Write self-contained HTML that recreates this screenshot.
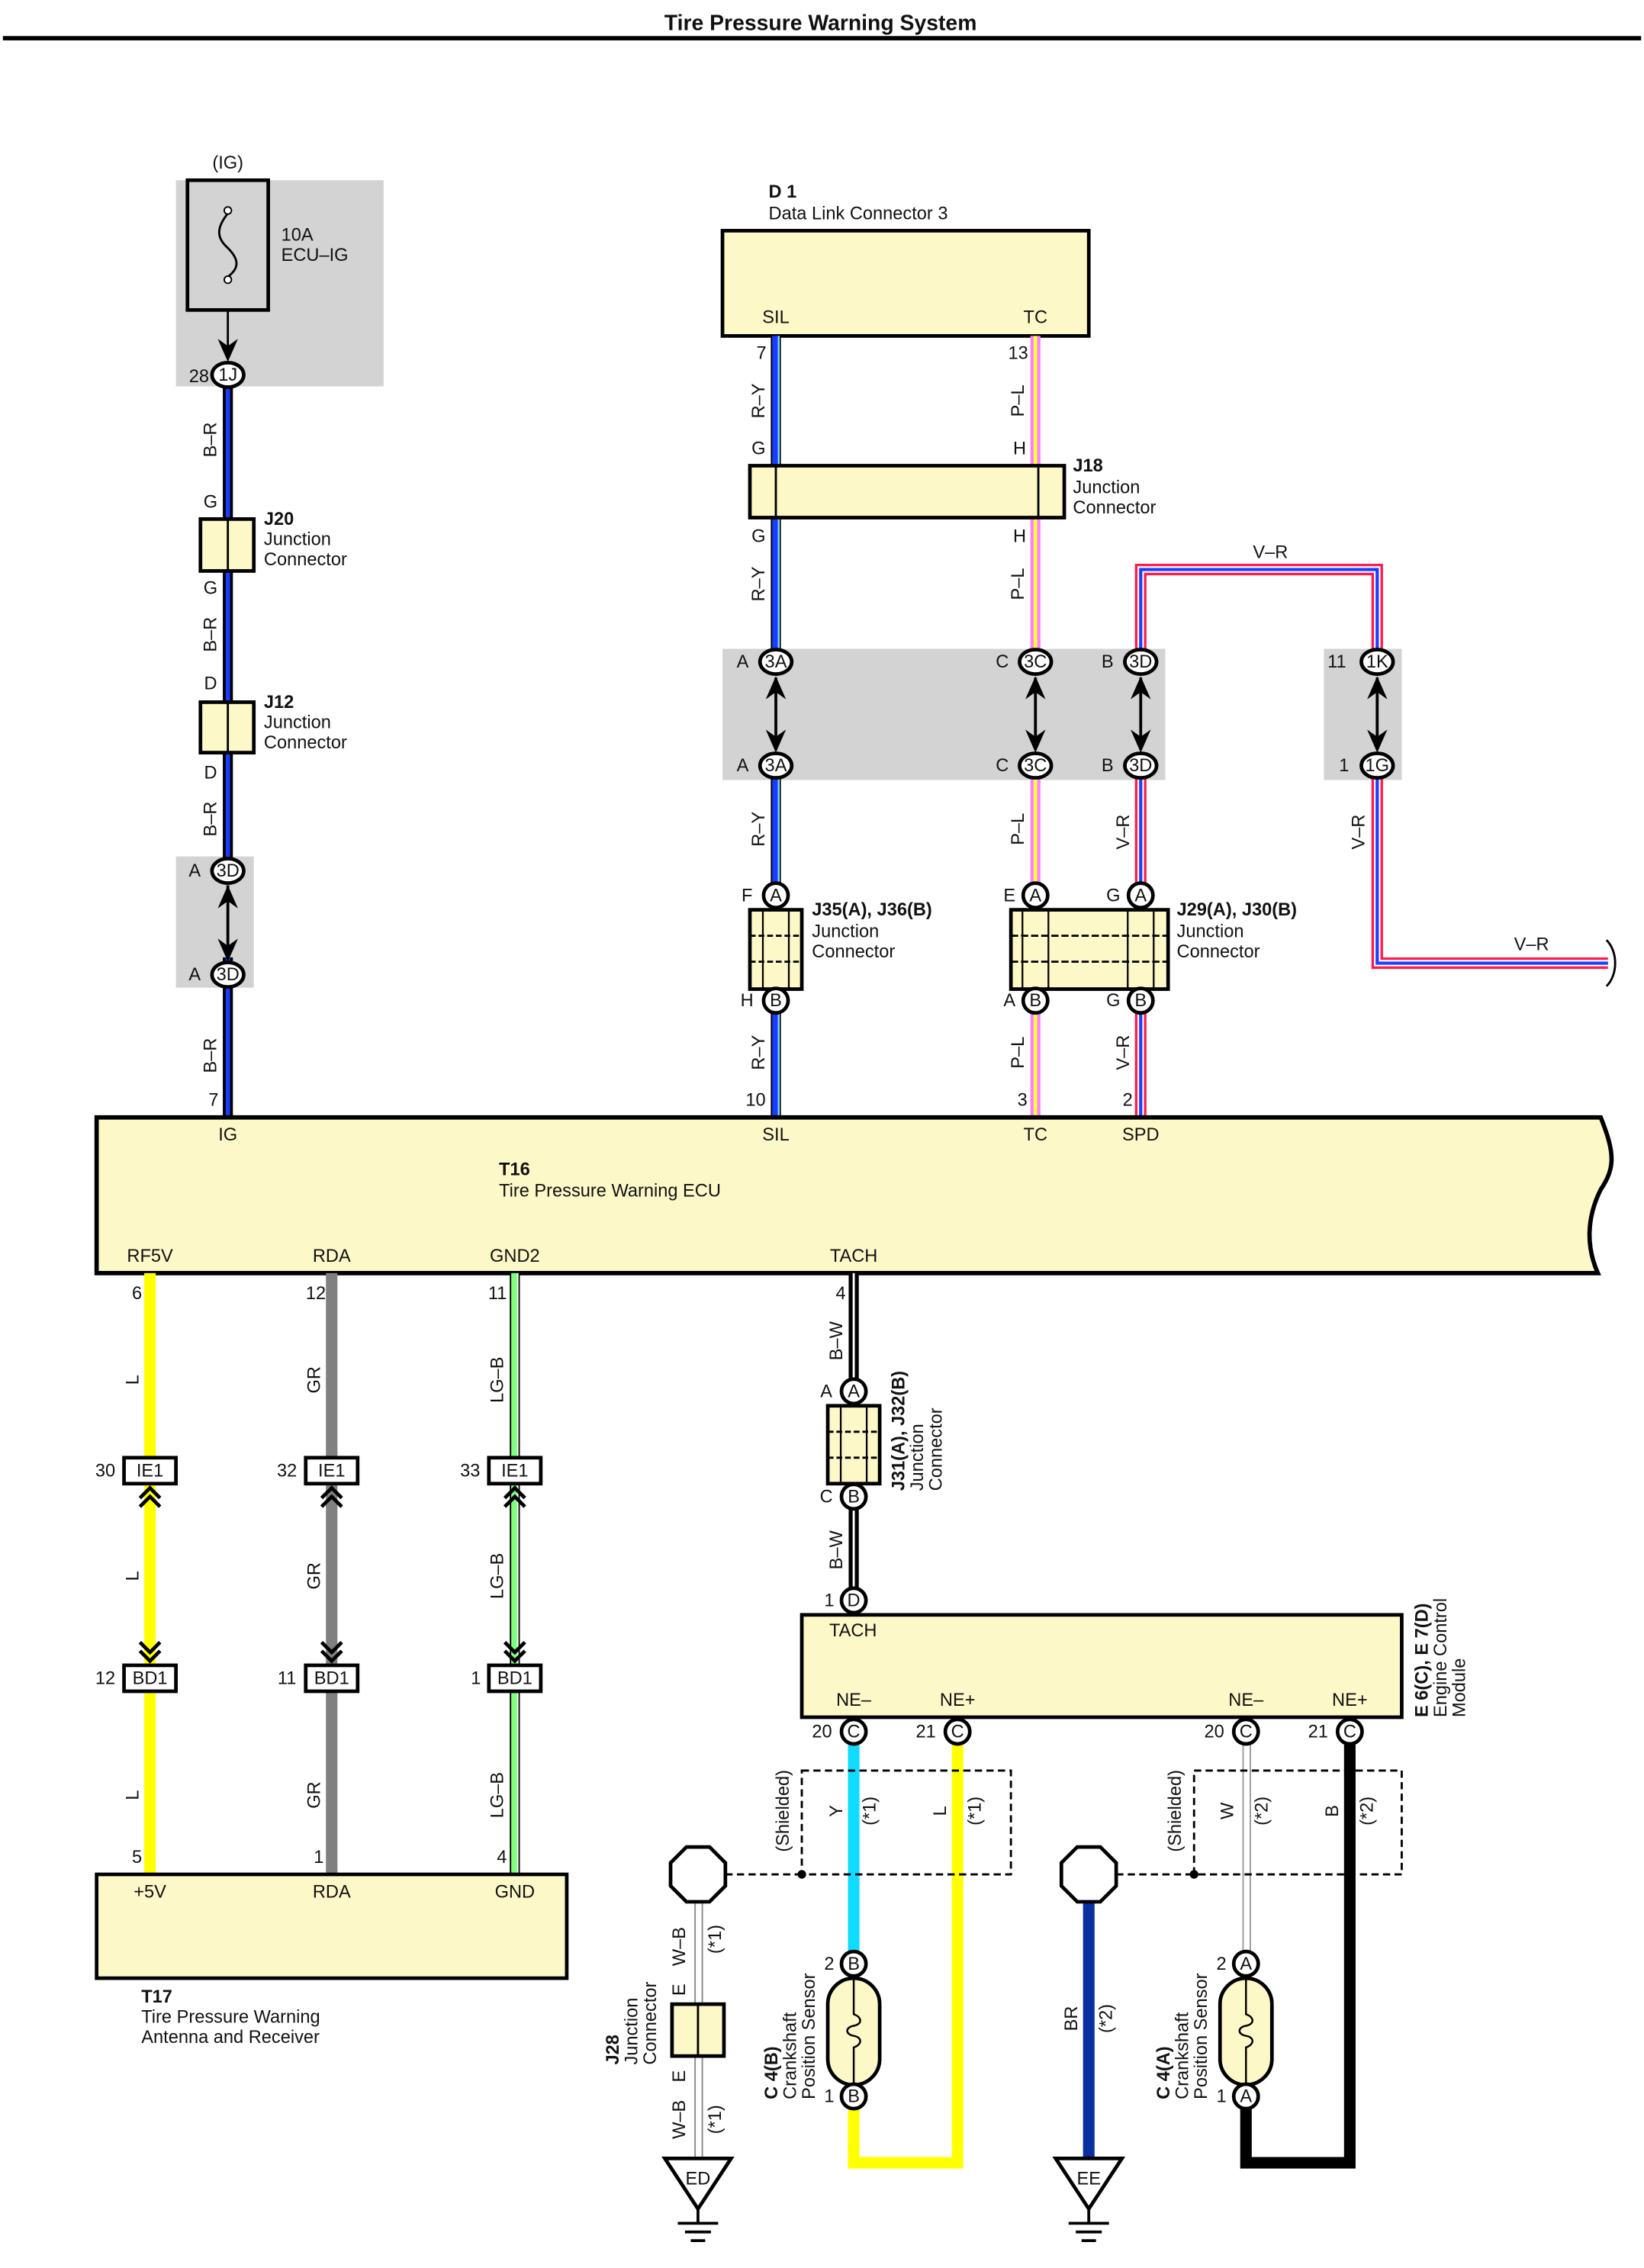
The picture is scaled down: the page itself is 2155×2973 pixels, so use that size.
<!DOCTYPE html>
<html><head><meta charset="utf-8"><style>
html,body{margin:0;padding:0;background:#fff}
svg{display:block}
text{font-family:"Liberation Sans",sans-serif;font-size:12.5px;fill:#111}
.b{font-weight:bold}
.c{text-anchor:middle}
</style></head><body>
<svg width="2155" height="2973" viewBox="0 0 1140 1573" preserveAspectRatio="none" xmlns="http://www.w3.org/2000/svg">
<defs>
<g id="upA"><polygon points="0,0 -7,16 0,11 7,16" fill="#000"/></g>
<g id="dnA"><polygon points="0,0 -7,-16 0,-11 7,-16" fill="#000"/></g>
<g id="chU"><polyline points="-7,8 0,1 7,8" fill="none" stroke="#000" stroke-width="2.5"/><polyline points="-7,14 0,7 7,14" fill="none" stroke="#000" stroke-width="2.5"/></g>
<g id="chD"><polyline points="-7,-8 0,-1 7,-8" fill="none" stroke="#000" stroke-width="2.5"/><polyline points="-7,-14 0,-7 7,-14" fill="none" stroke="#000" stroke-width="2.5"/></g>
</defs>
<text x="569" y="21" class="b c" style="font-size:15px">Tire Pressure Warning System</text>
<rect x="2" y="25" width="1136" height="3" fill="#000"/>

<rect x="122" y="125" width="144" height="143" fill="#d3d3d3"/>
<rect x="122" y="594" width="54" height="91" fill="#d3d3d3"/>
<rect x="501" y="450" width="307" height="91" fill="#d3d3d3"/>
<rect x="918" y="450" width="54" height="91" fill="#d3d3d3"/>

<text x="158" y="117" class="c">(IG)</text>
<rect x="130" y="125" width="56" height="90" fill="none" stroke="#000" stroke-width="2.5"/>
<path d="M158,148 C150,158 150,165 158,172 C166,180 166,186 158,192" fill="none" stroke="#000" stroke-width="1.5"/>
<circle cx="158" cy="146" r="2.5" fill="#fff" stroke="#000"/><circle cx="158" cy="194" r="2.5" fill="#fff" stroke="#000"/>
<text x="195" y="167">10A</text><text x="195" y="181">ECU–IG</text>
<line x1="158" y1="215" x2="158" y2="245" stroke="#000" stroke-width="1.5"/>
<use href="#dnA" x="158" y="251"/>

<line x1="158" y1="260" x2="158" y2="775" stroke="#000" stroke-width="7"/>
<line x1="158" y1="260" x2="158" y2="775" stroke="#1a3cff" stroke-width="3"/>
<rect x="152" y="612" width="12" height="52" fill="#d3d3d3"/>
<line x1="158" y1="614" x2="158" y2="662" stroke="#000" stroke-width="2"/>
<use href="#upA" x="158" y="614"/><use href="#dnA" x="158" y="667"/>

<rect x="139" y="360" width="37" height="36" fill="#fdf8c8" stroke="#000" stroke-width="2.5"/>
<line x1="158" y1="360" x2="158" y2="396" stroke="#000" stroke-width="1.5"/>
<rect x="139" y="487" width="37" height="35" fill="#fdf8c8" stroke="#000" stroke-width="2.5"/>
<line x1="158" y1="487" x2="158" y2="522" stroke="#000" stroke-width="1.5"/>
<text x="146" y="352" class="c">G</text><text x="146" y="412" class="c">G</text>
<text x="146" y="478" class="c">D</text><text x="146" y="540" class="c">D</text>
<text x="183" y="364" class="b">J20</text><text x="183" y="378">Junction</text><text x="183" y="392">Connector</text>
<text x="183" y="491" class="b">J12</text><text x="183" y="505">Junction</text><text x="183" y="519">Connector</text>
<text transform="translate(150,305) rotate(-90)" class="c">B–R</text>
<text transform="translate(150,440) rotate(-90)" class="c">B–R</text>
<text transform="translate(150,568) rotate(-90)" class="c">B–R</text>
<text transform="translate(150,732) rotate(-90)" class="c">B–R</text>
<text x="138" y="265" class="c">28</text>
<text x="148" y="767" class="c">7</text>
<text x="135" y="608" class="c">A</text><text x="135" y="680" class="c">A</text>

<text x="533" y="137" class="b">D 1</text><text x="533" y="152">Data Link Connector 3</text>
<rect x="501" y="160" width="254" height="73" fill="#fdf8c8" stroke="#000" stroke-width="2.5"/>
<text x="538" y="224" class="c">SIL</text><text x="718" y="224" class="c">TC</text>

<line x1="538" y1="233" x2="538" y2="775" stroke="#000" stroke-width="7"/>
<line x1="538" y1="233" x2="538" y2="775" stroke="#1a3cff" stroke-width="5"/>
<line x1="540" y1="233" x2="540" y2="775" stroke="#7fd4ff" stroke-width="1.3"/>
<line x1="718" y1="233" x2="718" y2="775" stroke="#ff7fff" stroke-width="7"/>
<line x1="718" y1="233" x2="718" y2="775" stroke="#ffff40" stroke-width="2.5"/>
<path d="M791,775 V395 H955 V668 H1115" fill="none" stroke="#ff1a4a" stroke-width="8"/>
<path d="M791,775 V395 H955 V668 H1115" fill="none" stroke="#fff" stroke-width="4.5"/>
<path d="M791,775 V395 H955 V668 H1115" fill="none" stroke="#1a3cff" stroke-width="2.2"/>
<path d="M1114,652 C1122,660 1122,676 1114,684" fill="none" stroke="#000" stroke-width="1.5"/>
<text x="881" y="387" class="c">V–R</text><text x="1062" y="659" class="c">V–R</text>

<rect x="520" y="323" width="218" height="36" fill="#fdf8c8" stroke="#000" stroke-width="2.5"/>
<line x1="538" y1="323" x2="538" y2="359" stroke="#000" stroke-width="1.5"/>
<line x1="720" y1="323" x2="720" y2="359" stroke="#000" stroke-width="1.5"/>
<text x="744" y="327" class="b">J18</text><text x="744" y="342">Junction</text><text x="744" y="356">Connector</text>
<text x="526" y="315" class="c">G</text><text x="526" y="376" class="c">G</text>
<text x="707" y="315" class="c">H</text><text x="707" y="376" class="c">H</text>
<text x="528" y="249" class="c">7</text><text x="706" y="249" class="c">13</text>

<rect x="532" y="468" width="12" height="54" fill="#d3d3d3"/>
<rect x="712" y="468" width="12" height="54" fill="#d3d3d3"/>
<rect x="785" y="468" width="12" height="54" fill="#d3d3d3"/>
<rect x="949" y="468" width="12" height="54" fill="#d3d3d3"/>
<line x1="538" y1="470" x2="538" y2="520" stroke="#000" stroke-width="2"/><use href="#upA" x="538" y="469"/><use href="#dnA" x="538" y="522"/>
<line x1="718" y1="470" x2="718" y2="520" stroke="#000" stroke-width="2"/><use href="#upA" x="718" y="469"/><use href="#dnA" x="718" y="522"/>
<line x1="791" y1="470" x2="791" y2="520" stroke="#000" stroke-width="2"/><use href="#upA" x="791" y="469"/><use href="#dnA" x="791" y="522"/>
<line x1="955" y1="470" x2="955" y2="520" stroke="#000" stroke-width="2"/><use href="#upA" x="955" y="469"/><use href="#dnA" x="955" y="522"/>
<text x="515" y="463" class="c">A</text><text x="515" y="535" class="c">A</text>
<text x="695" y="463" class="c">C</text><text x="695" y="535" class="c">C</text>
<text x="768" y="463" class="c">B</text><text x="768" y="535" class="c">B</text>
<text x="927" y="463" class="c">11</text><text x="932" y="535" class="c">1</text>

<rect x="520" y="631" width="36" height="55" fill="#fdf8c8" stroke="#000" stroke-width="2.5"/>
<line x1="529" y1="631" x2="529" y2="686" stroke="#000" stroke-width="1.2"/><line x1="547" y1="631" x2="547" y2="686" stroke="#000" stroke-width="1.2"/>
<line x1="520" y1="649" x2="556" y2="649" stroke="#000" stroke-width="1.5" stroke-dasharray="4,2"/>
<line x1="520" y1="667" x2="556" y2="667" stroke="#000" stroke-width="1.5" stroke-dasharray="4,2"/>
<text x="563" y="635" class="b">J35(A), J36(B)</text><text x="563" y="650">Junction</text><text x="563" y="664">Connector</text>
<text x="518" y="625" class="c">F</text><text x="518" y="698" class="c">H</text>
<rect x="701" y="631" width="109" height="55" fill="#fdf8c8" stroke="#000" stroke-width="2.5"/>
<line x1="709" y1="631" x2="709" y2="686" stroke="#000" stroke-width="1.2"/><line x1="727" y1="631" x2="727" y2="686" stroke="#000" stroke-width="1.2"/>
<line x1="782" y1="631" x2="782" y2="686" stroke="#000" stroke-width="1.2"/><line x1="800" y1="631" x2="800" y2="686" stroke="#000" stroke-width="1.2"/>
<line x1="701" y1="649" x2="810" y2="649" stroke="#000" stroke-width="1.5" stroke-dasharray="5,2"/>
<line x1="701" y1="667" x2="810" y2="667" stroke="#000" stroke-width="1.5" stroke-dasharray="5,2"/>
<text x="816" y="635" class="b">J29(A), J30(B)</text><text x="816" y="650">Junction</text><text x="816" y="664">Connector</text>
<text x="700" y="625" class="c">E</text><text x="772" y="625" class="c">G</text>
<text x="700" y="698" class="c">A</text><text x="772" y="698" class="c">G</text>

<text transform="translate(530,278) rotate(-90)" class="c">R–Y</text>
<text transform="translate(530,405) rotate(-90)" class="c">R–Y</text>
<text transform="translate(530,575) rotate(-90)" class="c">R–Y</text>
<text transform="translate(530,730) rotate(-90)" class="c">R–Y</text>
<text transform="translate(710,278) rotate(-90)" class="c">P–L</text>
<text transform="translate(710,405) rotate(-90)" class="c">P–L</text>
<text transform="translate(710,575) rotate(-90)" class="c">P–L</text>
<text transform="translate(710,730) rotate(-90)" class="c">P–L</text>
<text transform="translate(783,577) rotate(-90)" class="c">V–R</text>
<text transform="translate(783,730) rotate(-90)" class="c">V–R</text>
<text transform="translate(946,577) rotate(-90)" class="c">V–R</text>
<text x="524" y="767" class="c">10</text><text x="709" y="767" class="c">3</text><text x="782" y="767" class="c">2</text>

<path d="M67,775 H1110 C1120,800 1120,810 1110,825 C1100,845 1100,865 1108,883 H67 Z" fill="#fdf8c8" stroke="#000" stroke-width="3"/>
<text x="158" y="791" class="c">IG</text><text x="538" y="791" class="c">SIL</text><text x="718" y="791" class="c">TC</text><text x="791" y="791" class="c">SPD</text>
<text x="346" y="815" class="b">T16</text><text x="346" y="830">Tire Pressure Warning ECU</text>
<text x="104" y="875" class="c">RF5V</text><text x="230" y="875" class="c">RDA</text><text x="357" y="875" class="c">GND2</text><text x="592" y="875" class="c">TACH</text>

<line x1="104" y1="883" x2="104" y2="1300" stroke="#ffff00" stroke-width="8"/>
<line x1="230" y1="883" x2="230" y2="1300" stroke="#808080" stroke-width="8"/>
<line x1="357" y1="883" x2="357" y2="1300" stroke="#000" stroke-width="7"/>
<line x1="357" y1="883" x2="357" y2="1300" stroke="#7dff7d" stroke-width="5"/>
<line x1="359" y1="883" x2="359" y2="1300" stroke="#fff" stroke-width="1"/>
<rect x="86" y="1011" width="36" height="18" fill="#fff" stroke="#000" stroke-width="2.5"/><text x="104" y="1024" class="c">IE1</text>
<rect x="212" y="1011" width="36" height="18" fill="#fff" stroke="#000" stroke-width="2.5"/><text x="230" y="1024" class="c">IE1</text>
<rect x="339" y="1011" width="36" height="18" fill="#fff" stroke="#000" stroke-width="2.5"/><text x="357" y="1024" class="c">IE1</text>
<rect x="86" y="1155" width="36" height="18" fill="#fff" stroke="#000" stroke-width="2.5"/><text x="104" y="1168" class="c">BD1</text>
<rect x="212" y="1155" width="36" height="18" fill="#fff" stroke="#000" stroke-width="2.5"/><text x="230" y="1168" class="c">BD1</text>
<rect x="339" y="1155" width="36" height="18" fill="#fff" stroke="#000" stroke-width="2.5"/><text x="357" y="1168" class="c">BD1</text>
<use href="#chU" x="104" y="1031"/><use href="#chU" x="230" y="1031"/><use href="#chU" x="357" y="1031"/>
<use href="#chD" x="104" y="1153"/><use href="#chD" x="230" y="1153"/><use href="#chD" x="357" y="1153"/>
<text x="73" y="1024" class="c">30</text><text x="199" y="1024" class="c">32</text><text x="326" y="1024" class="c">33</text>
<text x="73" y="1168" class="c">12</text><text x="199" y="1168" class="c">11</text><text x="330" y="1168" class="c">1</text>
<text x="95" y="901" class="c">6</text><text x="219" y="901" class="c">12</text><text x="345" y="901" class="c">11</text>
<text x="95" y="1292" class="c">5</text><text x="221" y="1292" class="c">1</text><text x="348" y="1292" class="c">4</text>
<text transform="translate(96,957) rotate(-90)" class="c">L</text>
<text transform="translate(96,1093) rotate(-90)" class="c">L</text>
<text transform="translate(96,1245) rotate(-90)" class="c">L</text>
<text transform="translate(222,957) rotate(-90)" class="c">GR</text>
<text transform="translate(222,1093) rotate(-90)" class="c">GR</text>
<text transform="translate(222,1245) rotate(-90)" class="c">GR</text>
<text transform="translate(349,957) rotate(-90)" class="c">LG–B</text>
<text transform="translate(349,1093) rotate(-90)" class="c">LG–B</text>
<text transform="translate(349,1245) rotate(-90)" class="c">LG–B</text>
<rect x="67" y="1300" width="326" height="72" fill="#fdf8c8" stroke="#000" stroke-width="2.5"/>
<text x="104" y="1316" class="c">+5V</text><text x="230" y="1316" class="c">RDA</text><text x="357" y="1316" class="c">GND</text>
<text x="98" y="1389" class="b">T17</text><text x="98" y="1403">Tire Pressure Warning</text><text x="98" y="1417">Antenna and Receiver</text>

<line x1="592" y1="883" x2="592" y2="1120" stroke="#000" stroke-width="7"/>
<line x1="592" y1="883" x2="592" y2="1120" stroke="#fff" stroke-width="1.5"/>
<text x="583" y="901" class="c">4</text>
<text transform="translate(584,930) rotate(-90)" class="c">B–W</text>
<text transform="translate(584,1075) rotate(-90)" class="c">B–W</text>
<rect x="574" y="975" width="36" height="54" fill="#fdf8c8" stroke="#000" stroke-width="2.5"/>
<line x1="583" y1="975" x2="583" y2="1029" stroke="#000" stroke-width="1.2"/><line x1="601" y1="975" x2="601" y2="1029" stroke="#000" stroke-width="1.2"/>
<line x1="574" y1="993" x2="610" y2="993" stroke="#000" stroke-width="1.5" stroke-dasharray="4,2"/>
<line x1="574" y1="1011" x2="610" y2="1011" stroke="#000" stroke-width="1.5" stroke-dasharray="4,2"/>
<text transform="translate(627,1034) rotate(-90)" class="b">J31(A), J32(B)</text>
<text transform="translate(640,1034) rotate(-90)">Junction</text>
<text transform="translate(653,1034) rotate(-90)">Connector</text>
<text x="573" y="969" class="c">A</text><text x="573" y="1042" class="c">C</text><text x="575" y="1114" class="c">1</text>

<rect x="556" y="1120" width="416" height="71" fill="#fdf8c8" stroke="#000" stroke-width="2.5"/>
<text x="575" y="1135">TACH</text>
<text x="592" y="1183" class="c">NE–</text><text x="664" y="1183" class="c">NE+</text><text x="864" y="1183" class="c">NE–</text><text x="936" y="1183" class="c">NE+</text>
<text transform="translate(990,1191) rotate(-90)" class="b">E 6(C), E 7(D)</text>
<text transform="translate(1003,1191) rotate(-90)">Engine Control</text>
<text transform="translate(1016,1191) rotate(-90)">Module</text>
<text x="570" y="1205" class="c">20</text><text x="642" y="1205" class="c">21</text><text x="842" y="1205" class="c">20</text><text x="914" y="1205" class="c">21</text>

<line x1="592" y1="1201" x2="592" y2="1362" stroke="#10dcff" stroke-width="8"/>
<path d="M664,1201 V1500 H592 V1454" fill="none" stroke="#ffff00" stroke-width="8"/>
<line x1="862" y1="1201" x2="862" y2="1362" stroke="#999" stroke-width="1"/>
<line x1="867" y1="1201" x2="867" y2="1362" stroke="#999" stroke-width="1"/>
<path d="M936,1201 V1500 H864 V1454" fill="none" stroke="#000" stroke-width="8"/>
<rect x="556" y="1228" width="145" height="72" fill="none" stroke="#000" stroke-width="1.5" stroke-dasharray="5,3"/>
<rect x="828" y="1228" width="144" height="72" fill="none" stroke="#000" stroke-width="1.5" stroke-dasharray="5,3"/>
<line x1="503" y1="1300" x2="556" y2="1300" stroke="#000" stroke-width="1.5" stroke-dasharray="5,3"/>
<line x1="774" y1="1300" x2="828" y2="1300" stroke="#000" stroke-width="1.5" stroke-dasharray="5,3"/>
<circle cx="556" cy="1300" r="3" fill="#000"/><circle cx="828" cy="1300" r="3" fill="#000"/>
<text transform="translate(547,1256) rotate(-90)" class="c">(Shielded)</text>
<text transform="translate(819,1256) rotate(-90)" class="c">(Shielded)</text>
<text transform="translate(584,1256) rotate(-90)" class="c">Y</text>
<text transform="translate(607,1256) rotate(-90)" class="c">(*1)</text>
<text transform="translate(656,1256) rotate(-90)" class="c">L</text>
<text transform="translate(680,1256) rotate(-90)" class="c">(*1)</text>
<text transform="translate(855,1256) rotate(-90)" class="c">W</text>
<text transform="translate(879,1256) rotate(-90)" class="c">(*2)</text>
<text transform="translate(928,1256) rotate(-90)" class="c">B</text>
<text transform="translate(952,1256) rotate(-90)" class="c">(*2)</text>

<rect x="574" y="1372" width="36" height="74" rx="18" fill="#fdf8c8" stroke="#000" stroke-width="2.5"/>
<path d="M592,1372 V1397 c6,2 6,7 0,8 c-6,1 -6,6 0,7 c6,1 6,6 0,8 V1446" fill="none" stroke="#000" stroke-width="1.3"/>
<rect x="846" y="1372" width="36" height="74" rx="18" fill="#fdf8c8" stroke="#000" stroke-width="2.5"/>
<path d="M864,1372 V1397 c6,2 6,7 0,8 c-6,1 -6,6 0,7 c6,1 6,6 0,8 V1446" fill="none" stroke="#000" stroke-width="1.3"/>
<text x="575" y="1366" class="c">2</text><text x="575" y="1458" class="c">1</text>
<text x="847" y="1366" class="c">2</text><text x="847" y="1458" class="c">1</text>
<text transform="translate(539,1456) rotate(-90)" class="b">C 4(B)</text>
<text transform="translate(552,1456) rotate(-90)">Crankshaft</text>
<text transform="translate(565,1456) rotate(-90)">Position Sensor</text>
<text transform="translate(811,1456) rotate(-90)" class="b">C 4(A)</text>
<text transform="translate(824,1456) rotate(-90)">Crankshaft</text>
<text transform="translate(837,1456) rotate(-90)">Position Sensor</text>

<line x1="482" y1="1319" x2="482" y2="1497" stroke="#888" stroke-width="1"/>
<line x1="487" y1="1319" x2="487" y2="1497" stroke="#888" stroke-width="1"/>
<line x1="755" y1="1319" x2="755" y2="1497" stroke="#0a2fa0" stroke-width="8"/>
<polygon points="476,1281 492,1281 503,1292 503,1308 492,1319 476,1319 465,1308 465,1292" fill="#fff" stroke="#000" stroke-width="2.5"/>
<polygon points="747,1281 763,1281 774,1292 774,1308 763,1319 747,1319 736,1308 736,1292" fill="#fff" stroke="#000" stroke-width="2.5"/>
<rect x="466" y="1390" width="36" height="36" fill="#fdf8c8" stroke="#000" stroke-width="2.5"/>
<line x1="484" y1="1390" x2="484" y2="1426" stroke="#000" stroke-width="1.5"/>
<text transform="translate(475,1350) rotate(-90)" class="c">W–B</text>
<text transform="translate(500,1345) rotate(-90)" class="c">(*1)</text>
<text transform="translate(475,1380) rotate(-90)" class="c">E</text>
<text transform="translate(475,1440) rotate(-90)" class="c">E</text>
<text transform="translate(475,1470) rotate(-90)" class="c">W–B</text>
<text transform="translate(500,1470) rotate(-90)" class="c">(*1)</text>
<text transform="translate(429,1432) rotate(-90)" class="b">J28</text>
<text transform="translate(442,1432) rotate(-90)">Junction</text>
<text transform="translate(455,1432) rotate(-90)">Connector</text>
<text transform="translate(747,1400) rotate(-90)" class="c">BR</text>
<text transform="translate(771,1400) rotate(-90)" class="c">(*2)</text>
<g fill="#fff" stroke="#000" stroke-width="2.5">
<polygon points="461,1497 507,1497 484,1532"/>
<polygon points="732,1497 778,1497 755,1532"/>
</g>
<text x="484" y="1515" class="c">ED</text><text x="755" y="1515" class="c">EE</text>
<g stroke="#000" stroke-width="2">
<line x1="484" y1="1532" x2="484" y2="1542"/><line x1="470" y1="1542" x2="498" y2="1542"/><line x1="475" y1="1548" x2="493" y2="1548"/><line x1="479" y1="1554" x2="489" y2="1554"/>
<line x1="755" y1="1532" x2="755" y2="1542"/><line x1="741" y1="1542" x2="769" y2="1542"/><line x1="746" y1="1548" x2="764" y2="1548"/><line x1="750" y1="1554" x2="760" y2="1554"/>
</g>

<g font-size="11">
<g fill="#fff" stroke="#000" stroke-width="2.5">
<ellipse cx="158" cy="260" rx="11" ry="8.5"/>
<ellipse cx="158" cy="604" rx="11" ry="8.5"/><ellipse cx="158" cy="676" rx="11" ry="8.5"/>
<ellipse cx="538" cy="459" rx="11" ry="8.5"/><ellipse cx="538" cy="531" rx="11" ry="8.5"/>
<ellipse cx="718" cy="459" rx="11" ry="8.5"/><ellipse cx="718" cy="531" rx="11" ry="8.5"/>
<ellipse cx="791" cy="459" rx="11" ry="8.5"/><ellipse cx="791" cy="531" rx="11" ry="8.5"/>
<ellipse cx="955" cy="459" rx="11" ry="8.5"/><ellipse cx="955" cy="531" rx="11" ry="8.5"/>
<circle cx="538" cy="621" r="8.5"/><circle cx="538" cy="694" r="8.5"/>
<circle cx="718" cy="621" r="8.5"/><circle cx="718" cy="694" r="8.5"/>
<circle cx="791" cy="621" r="8.5"/><circle cx="791" cy="694" r="8.5"/>
<circle cx="592" cy="965" r="8.5"/><circle cx="592" cy="1038" r="8.5"/><circle cx="592" cy="1110" r="8.5"/>
<circle cx="592" cy="1201" r="8.5"/><circle cx="664" cy="1201" r="8.5"/><circle cx="864" cy="1201" r="8.5"/><circle cx="936" cy="1201" r="8.5"/>
<circle cx="592" cy="1362" r="8.5"/><circle cx="592" cy="1454" r="8.5"/><circle cx="864" cy="1362" r="8.5"/><circle cx="864" cy="1454" r="8.5"/>
</g>
<text x="158" y="264" class="c">1J</text>
<text x="158" y="608" class="c">3D</text><text x="158" y="680" class="c">3D</text>
<text x="538" y="463" class="c">3A</text><text x="538" y="535" class="c">3A</text>
<text x="718" y="463" class="c">3C</text><text x="718" y="535" class="c">3C</text>
<text x="791" y="463" class="c">3D</text><text x="791" y="535" class="c">3D</text>
<text x="955" y="463" class="c">1K</text><text x="955" y="535" class="c">1G</text>
<text x="538" y="625" class="c">A</text><text x="538" y="698" class="c">B</text>
<text x="718" y="625" class="c">A</text><text x="718" y="698" class="c">B</text>
<text x="791" y="625" class="c">A</text><text x="791" y="698" class="c">B</text>
<text x="592" y="969" class="c">A</text><text x="592" y="1042" class="c">B</text><text x="592" y="1114" class="c">D</text>
<text x="592" y="1205" class="c">C</text><text x="664" y="1205" class="c">C</text><text x="864" y="1205" class="c">C</text><text x="936" y="1205" class="c">C</text>
<text x="592" y="1366" class="c">B</text><text x="592" y="1458" class="c">B</text><text x="864" y="1366" class="c">A</text><text x="864" y="1458" class="c">A</text>
</g>
</svg>
</body></html>
